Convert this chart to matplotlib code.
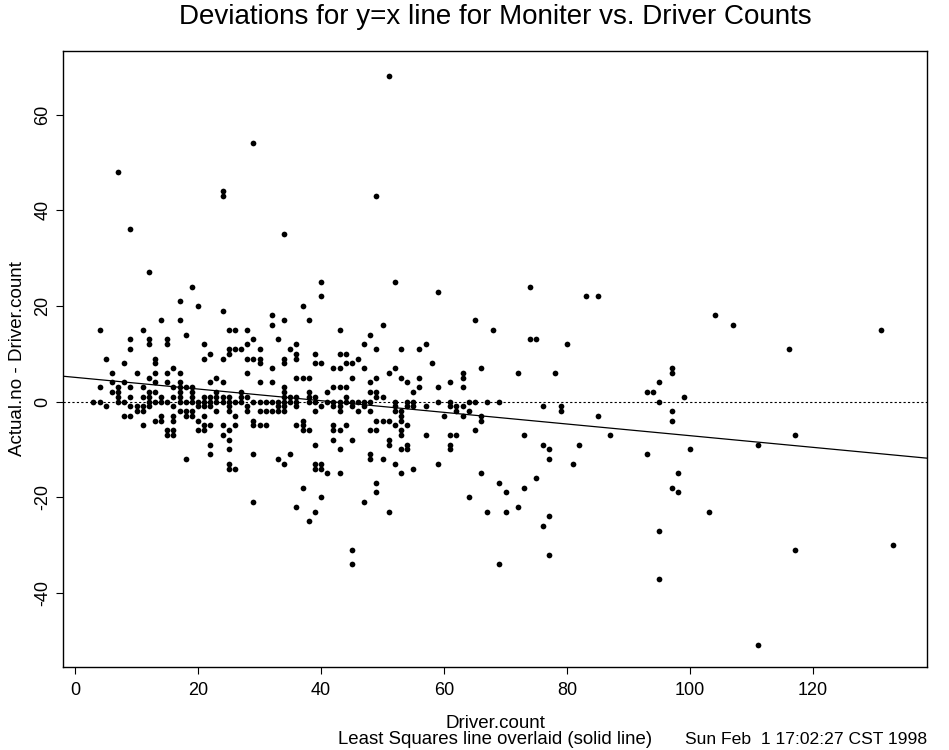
import matplotlib.pyplot as plt
import numpy as np

plt.rcParams['font.family'] = ['Liberation Sans', 'DejaVu Sans']
plt.rcParams['axes.unicode_minus'] = False

# Driver.count values and the deviations (Actual.no - Driver.count) seen at each one
driver_count = [3, 4, 5, 6, 7, 8, 9, 10, 11, 12, 13, 14, 15, 16, 17, 18, 19,
                20, 21, 22, 23, 24, 25, 26, 27, 28, 29, 30, 31, 32, 33, 34, 35, 36, 37, 38, 39,
                40, 41, 42, 43, 44, 45, 46, 47, 48, 49, 50, 51, 52, 53, 54, 55, 56, 57, 58, 59,
                60, 61, 62, 63, 64, 65, 66, 67, 68, 69, 70, 72, 73, 74, 75, 76, 77, 78, 79,
                80, 81, 82, 83, 85, 87, 93, 94, 95, 97, 98, 99, 100, 103, 104, 107, 111,
                116, 117, 131, 133]
deviation = [
    [0], [15, 3, 0], [9, -1], [6, 4, 2], [48, 3, 2, 1, 0], [8, 4, 0, -3],
    [36, 13, 11, 3, 1, -1, -3], [6, -1, -2], [15, 3, 1, -1, -2, -5],
    [27, 13, 12, 5, 2, 1, 0, -1], [9, 8, 6, 4, 2, 0, -4], [17, 1, 0, -3, -4],
    [13, 12, 6, 4, 0, -6, -7], [7, 3, 1, -1, -3, -4, -6, -7],
    [21, 17, 6, 4, 3, 2, 1, 0, -2], [14, 3, 0, -2, -3, -12], [24, 3, 2, 1, 0, -2, -3],
    [20, 0, -1, -4, -6], [12, 9, 1, 0, -1, -3, -5, -6], [10, 4, 1, 0, -1, -5, -9, -11],
    [5, 2, 1, 0, -2], [44, 43, 19, 9, 4, 1, 0, -5, -7],
    [15, 11, 10, 1, 0, -1, -2, -6, -8, -10, -13, -14], [15, 11, 0, -3, -5, -14],
    [11, 2, 1, 0], [15, 12, 9, 6, 1, -1, -2], [54, 13, 9, 0, -4, -5, -11, -21],
    [11, 9, 8, 4, 0, -2, -5], [0, -2, -5], [18, 16, 7, 4, 0, -2], [13, 0, -1, -2, -12],
    [35, 17, 9, 8, 3, 2, 1, 0, -1, -2, -13], [11, 1, 0, -11],
    [12, 10, 9, 5, 1, 0, -1, -5, -22], [20, 5, -4, -5, -6, -18],
    [17, 5, 2, 1, 0, -6, -25], [10, 8, 1, 0, -2, -9, -13, -14, -23],
    [25, 22, 8, -1, -13, -14, -20], [2, 0, -15], [7, 3, 0, -1, -5, -6, -8],
    [15, 10, 7, 3, 0, -1, -2, -6, -10, -15], [10, 8, 3, 1, 0, -5],
    [8, 5, 0, -1, -8, -31, -34], [9, 0, -2], [12, 7, 0, -1, -21],
    [14, 4, 2, 0, -2, -6, -11, -12], [43, 11, 5, 2, 1, -4, -6, -17, -19],
    [16, 1, -4, -12], [68, 6, -4, -8, -9, -23], [25, 7, 0, -1, -2, -5, -13],
    [11, 5, -2, -3, -4, -6, -7, -10, -15], [4, 0, -1, -5, -9, -10], [2, 0, -1, -14],
    [11, 5, 3], [12, -1, -7], [8], [23, 3, 0, -13],
    [-3], [4, 0, -1, -7, -9, -10], [-1, -2, -7], [6, 5, 3, -1, -3], [0, -2, -20],
    [17, 0, -6], [7, -3, -4, -15], [0, -23], [15], [0, -17, -34], [-19, -23],
    [6, -22], [-7, -18], [24, 13], [13, -16], [-1, -9, -26], [-10, -12, -24, -32],
    [6], [-1, -2],
    [12], [-13], [-9], [22], [22, -3], [-7], [2, -11], [2], [4, 0, -27, -37],
    [7, 6, -2, -4, -18], [-15, -19], [1], [-10], [-23], [18], [16], [-9, -51],
    [11], [-7, -31], [15], [-30],
]

# least squares line
ls_intercept = 5.06
ls_slope = -0.122

x = np.repeat(driver_count, [len(d) for d in deviation])
y = np.concatenate(deviation)

fig = plt.figure(figsize=(9.49, 7.5), dpi=100)
ax = fig.add_axes([0.0664, 0.1107, 0.9104, 0.8213])

ax.scatter(x, y, s=17, c='black', marker='o', linewidths=0)
ax.axhline(0, color='black', lw=0.8, linestyle=(0, (2, 2)))
ax.axline((0, ls_intercept), slope=ls_slope, color='black', lw=0.9)

ax.set_xlim(-1.95, 138.5)
ax.set_ylim(-55.5, 73.3)
ax.set_xticks([0, 20, 40, 60, 80, 100, 120])
ax.set_yticks([-40, -20, 0, 20, 40, 60])
ax.tick_params(direction='out', length=5, width=0.8, labelsize=13)
ax.tick_params(axis='x', pad=5.5)
ax.tick_params(axis='y', pad=3.5)
plt.setp(ax.get_yticklabels(), rotation=90, va='center')
for s in ax.spines.values():
    s.set_linewidth(1.0)

ax.set_xlabel('Driver.count', fontsize=13.5, va='baseline')
ax.xaxis.set_label_coords(0.5, -0.099)
ax.set_ylabel('Actual.no - Driver.count', fontsize=13.5)
ax.yaxis.set_label_coords(-0.043, 0.5)

fig.text(0.5216, 0.968, 'Deviations for y=x line for Moniter vs. Driver Counts',
         ha='center', va='baseline', fontsize=20)
fig.text(0.5216, 0.008, 'Least Squares line overlaid (solid line)', ha='center',
         va='baseline', fontsize=13.4)
fig.text(0.977, 0.008, 'Sun Feb  1 17:02:27 CST 1998', ha='right', va='baseline',
         fontsize=12.6)

fig.savefig('out.png', dpi=100)
